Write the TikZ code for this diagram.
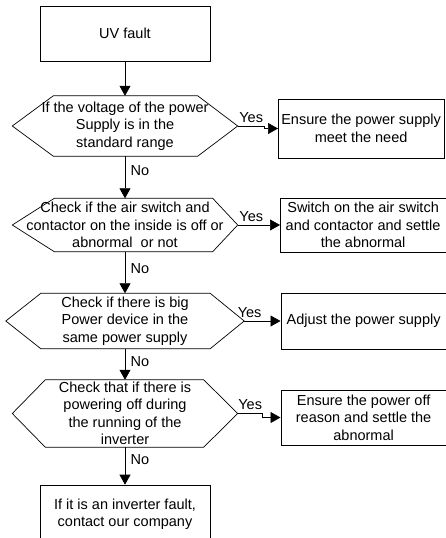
\documentclass[tikz,border=0pt]{standalone}
\usepackage{fontspec}
\setmainfont{Liberation Sans}
\usetikzlibrary{arrows.meta}

\begin{document}
\begin{tikzpicture}[x=1pt, y=1pt,
  every node/.style={font=\fontsize{14.5}{17.5}\selectfont, align=center},
  boite/.style={draw, line width=0.7pt, inner sep=0pt},
  action/.style={boite, anchor=west, minimum width=165.5},
  test/.style={inner sep=0pt},
  fleche/.style={line width=0.7pt, -{Triangle[length=10pt, width=11pt]}}]

  % Cadre
  \useasboundingbox (0,0) rectangle (446,-538);
  \clip (0,0) rectangle (446,-538);

  % Colonne de gauche
  \node[boite, minimum width=170, minimum height=55] (fault) at (125,-33.5) {UV fault};
  \node[test, minimum width=225, minimum height=60] (q1) at (125,-126)
    {If the voltage of the power\\Supply is in the\\standard range};
  \node[test, minimum width=225, minimum height=53] (q2) at (125,-225)
    {Check if the air switch and\\contactor on the inside is off or\\abnormal\ \ or not};
  \node[test, minimum width=238, minimum height=55] (q3) at (125,-321)
    {Check if there is big\\Power device in the\\same power supply};
  \node[test, minimum width=225, minimum height=67] (q4) at (125,-413.5)
    {Check that if there is\\powering off during\\the running of the\\inverter};
  \node[boite, minimum width=170, minimum height=58] (fix) at (125,-514)
    {If it is an inverter fault,\\contact our company};

  % Losanges
  \foreach \n/\g/\d in {q1/41/40, q2/42/25, q3/35/34, q4/33/34}
    \draw[line width=0.7pt] (\n.west) -- ([xshift=\g]\n.north west)
      -- ([xshift=-\d]\n.north east) -- (\n.east)
      -- ([xshift=-\d]\n.south east) -- ([xshift=\g]\n.south west) -- cycle;

  % Colonne de droite
  \node[action, minimum height=59] (a1) at (278,-128.5)
    {Ensure the power supply\\meet the need};
  \node[action, minimum height=54] (a2) at (280,-225)
    {Switch on the air switch\\and contactor and settle\\the abnormal};
  \node[action, minimum height=56] (a3) at (280.5,-321)
    {Adjust the power supply};
  \node[action, minimum height=55] (a4) at (280.5,-417.5)
    {Ensure the power off\\reason and settle the\\abnormal};

  % Fleches
  \draw[fleche] (fault) -- (q1);
  \draw[fleche] (q1) -- node[right, xshift=2pt, pos=0.35] {No} (q2);
  \draw[fleche] (q2) -- node[right, xshift=2pt, pos=0.4] {No} (q3);
  \draw[fleche] (q3) -- node[right, xshift=2pt, pos=0.4] {No} (q4);
  \draw[fleche] (q4) -- node[right, xshift=2pt, pos=0.32] {No} (fix);

  \draw[fleche] (q1.east) -- node[above] {Yes} ++(27,0) |- (a1.west);
  \draw[fleche] (q2) -- node[above, pos=0.32] {Yes} (a2);
  \draw[fleche] (q3) -- node[above, pos=0.15] {Yes} (a3);
  \draw[fleche] (q4.east) -- node[above] {Yes} ++(25,0) |- (a4.west);

\end{tikzpicture}
\end{document}
